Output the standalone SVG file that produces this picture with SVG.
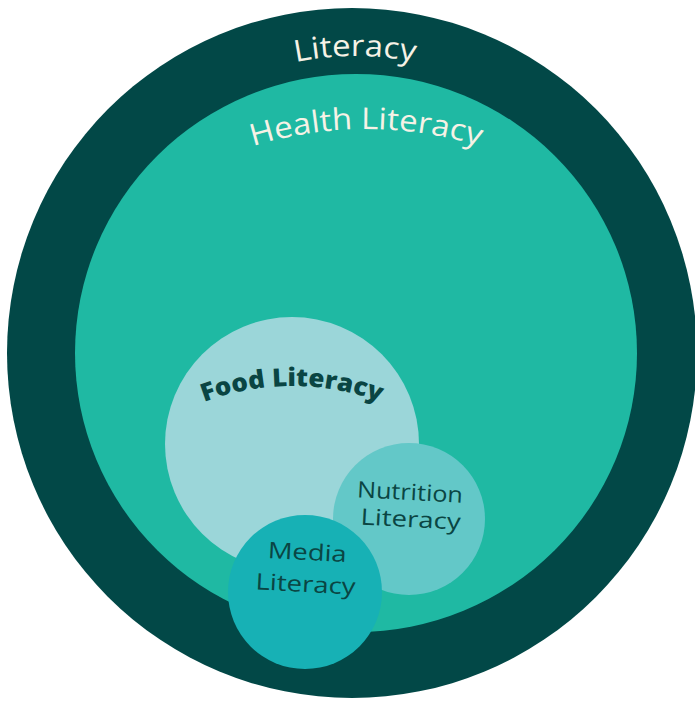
<svg xmlns="http://www.w3.org/2000/svg" xmlns:xlink="http://www.w3.org/1999/xlink" width="695" height="701" viewBox="0 0 695 701">
  <style>
    .label { font-family: "Open Sans", "Noto Sans", "DejaVu Sans", sans-serif; }
    .light { fill: #f6f2e6; font-size: 30px; font-weight: 400; }
    .dark { fill: #0a4543; font-size: 22.5px; font-weight: 400; }
    .bold { fill: #0a4543; font-size: 25px; font-weight: 800; }
  </style>
  <defs>
    <!-- arcs that carry the curved titles -->
    <path id="arc-literacy" d="M 57,354 A 298 298 0 0 1 653,354"/>
    <path id="arc-health" d="M -14,509 A 380 380 0 0 1 746,509"/>
    <path id="arc-food" d="M 42,636 A 250 250 0 0 1 542,636"/>
  </defs>
  <rect width="695" height="701" fill="#ffffff"/>

  <g id="literacy">
    <circle cx="352" cy="353" r="345" fill="#024847"/>
    <text class="label light" text-anchor="middle">
      <textPath href="#arc-literacy" xlink:href="#arc-literacy" startOffset="50%" textLength="120" lengthAdjust="spacingAndGlyphs">Literacy</textPath>
    </text>
  </g>

  <g id="health-literacy">
    <ellipse cx="356" cy="353" rx="281" ry="279" fill="#1fb9a3"/>
    <text class="label light" text-anchor="middle">
      <textPath href="#arc-health" xlink:href="#arc-health" startOffset="50%" textLength="230" lengthAdjust="spacingAndGlyphs">Health Literacy</textPath>
    </text>
  </g>

  <g id="food-literacy">
    <circle cx="292" cy="444" r="127" fill="#9bd6d9"/>
    <text class="label bold" text-anchor="middle">
      <textPath href="#arc-food" xlink:href="#arc-food" startOffset="50%" textLength="180" lengthAdjust="spacingAndGlyphs">Food Literacy</textPath>
    </text>
  </g>

  <g id="nutrition-literacy">
    <circle cx="409" cy="519" r="76" fill="#63c8c8"/>
    <g transform="rotate(3 409 512)">
      <text class="label dark" x="409" y="500" text-anchor="middle" textLength="106" lengthAdjust="spacingAndGlyphs">Nutrition</text>
      <text class="label dark" x="411" y="527" text-anchor="middle" textLength="100" lengthAdjust="spacingAndGlyphs">Literacy</text>
    </g>
  </g>

  <g id="media-literacy">
    <circle cx="305" cy="592" r="77" fill="#17b1b5"/>
    <g transform="rotate(3 306 576)">
      <text class="label dark" x="306" y="560" text-anchor="middle" textLength="79" lengthAdjust="spacingAndGlyphs">Media</text>
      <text class="label dark" x="306" y="592" text-anchor="middle" textLength="100" lengthAdjust="spacingAndGlyphs">Literacy</text>
    </g>
  </g>
</svg>
